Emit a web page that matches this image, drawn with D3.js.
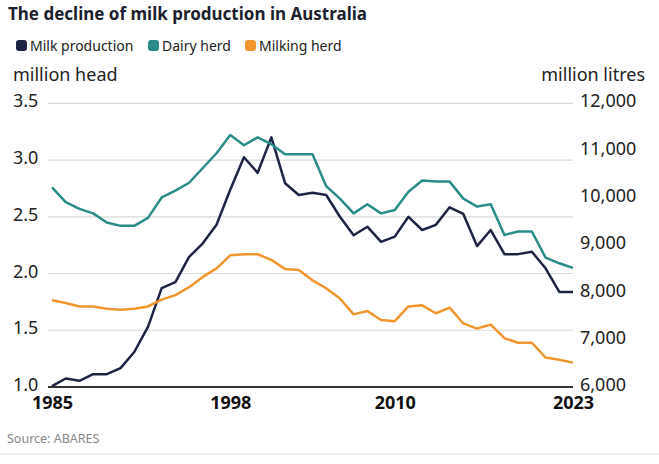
<!DOCTYPE html>
<html>
<head>
<meta charset="utf-8">
<script src="https://cdn.jsdelivr.net/npm/d3@7"></script>
<style>
  body { margin: 0; background: #fff; }
  text { font-family: "Noto Sans", "Open Sans", sans-serif; }
</style>
</head>
<body>
<div id="chart"></div>
<script>
// Data
var years = d3.range(1985, 2024);

// million litres (right axis)
var milkProduction = [6020, 6180, 6130, 6270, 6270, 6400, 6740, 7270, 8090, 8220,
  8750, 9040, 9430, 10170, 10860, 10530, 11280, 10310, 10060, 10110,
  10060, 9600, 9210, 9390, 9070, 9180, 9600, 9320, 9430, 9800,
  9660, 8980, 9320, 8810, 8810, 8860, 8510, 8010, 8010];

// million head (left axis)
var dairyHerd = [2.76, 2.63, 2.57, 2.53, 2.45, 2.42, 2.42, 2.49, 2.67, 2.73,
  2.80, 2.93, 3.06, 3.22, 3.13, 3.20, 3.14, 3.05, 3.05, 3.05,
  2.77, 2.66, 2.53, 2.61, 2.53, 2.56, 2.72, 2.82, 2.81, 2.81,
  2.66, 2.59, 2.61, 2.34, 2.37, 2.37, 2.14, 2.09, 2.05];

var milkingHerd = [1.765, 1.74, 1.71, 1.71, 1.69, 1.68, 1.69, 1.71, 1.77, 1.81,
  1.88, 1.97, 2.045, 2.16, 2.17, 2.17, 2.12, 2.04, 2.03, 1.94,
  1.87, 1.78, 1.64, 1.67, 1.59, 1.58, 1.71, 1.72, 1.65, 1.70,
  1.56, 1.515, 1.55, 1.43, 1.39, 1.39, 1.26, 1.24, 1.215];

var leftTicks = [1.0, 1.5, 2.0, 2.5, 3.0, 3.5];
var rightTicks = [6000, 7000, 8000, 9000, 10000, 11000, 12000];
var xTicks = [1985, 1998, 2010, 2023];

var series = [
  {name: "Milk production", color: "#1d2443", values: milkProduction, axis: "right"},
  {name: "Dairy herd", color: "#2a8c88", values: dairyHerd, axis: "left"},
  {name: "Milking herd", color: "#f0962e", values: milkingHerd, axis: "left"}
];

var svgWidth = 659;
var svgHeight = 464;

var margin = {top: 103.3, right: 86, bottom: 77, left: 52};
var width = svgWidth - margin.left - margin.right;
var height = svgHeight - margin.top - margin.bottom;

var svg = d3.select("#chart")
  .append("svg")
  .attr("width", svgWidth)
  .attr("height", svgHeight);

// Title and legend
svg.append("text")
  .attr("x", 8).attr("y", 20)
  .attr("font-size", "17px")
  .attr("font-weight", "bold")
  .attr("fill", "#1b1f2e")
  .text("The decline of milk production in Australia");

var legendX = [16, 148, 245];
var legend = svg.selectAll(".legend")
  .data(series)
  .enter()
  .append("g")
  .attr("transform", (d, i) => `translate(${legendX[i]}, 40)`);

legend.append("rect")
  .attr("width", 11).attr("height", 11)
  .attr("rx", 3)
  .attr("fill", d => d.color);

legend.append("text")
  .attr("x", 14).attr("y", 10.5)
  .attr("font-size", "14px")
  .attr("fill", "#222")
  .text(d => d.name);

svg.append("text")
  .attr("x", 13).attr("y", 81)
  .attr("font-size", "18px")
  .attr("fill", "#222")
  .text("million head");

svg.append("text")
  .attr("x", 645).attr("y", 81)
  .attr("text-anchor", "end")
  .attr("font-size", "18px")
  .attr("fill", "#222")
  .text("million litres");

var chartGroup = svg.append("g")
  .attr("transform", `translate(${margin.left}, ${margin.top})`);

// Scales
var xScale = d3.scaleLinear()
  .domain([1985, 2023])
  .range([0, width]);

var yLeft = d3.scaleLinear()
  .domain([1.0, 3.5])
  .range([height, 0]);

var yRight = d3.scaleLinear()
  .domain([6000, 12000])
  .range([height, 0]);

// Grid lines
chartGroup.selectAll(".grid")
  .data(leftTicks.slice(1))
  .enter()
  .append("line")
  .attr("x1", -4).attr("x2", width)
  .attr("y1", d => yLeft(d)).attr("y2", d => yLeft(d))
  .attr("stroke", "#dadada")
  .attr("stroke-width", 1.2);

// Left axis
var leftAxis = d3.axisLeft(yLeft)
  .tickValues(leftTicks)
  .tickFormat(d3.format(".1f"))
  .tickSize(0);

chartGroup.append("g")
  .attr("class", "axis")
  .call(leftAxis)
  .call(g => g.select(".domain").remove())
  .call(g => g.selectAll("text")
    .attr("x", -39).attr("dy", "0.2em")
    .attr("text-anchor", "start")
    .attr("font-size", "18px")
    .attr("fill", "#222"));

// Right axis
var rightAxis = d3.axisRight(yRight)
  .tickValues(rightTicks)
  .tickFormat(d3.format(","))
  .tickSize(0);

chartGroup.append("g")
  .attr("transform", `translate(${width}, 0)`)
  .call(rightAxis)
  .call(g => g.select(".domain").remove())
  .call(g => g.selectAll("text")
    .attr("x", 7).attr("dy", "0.2em")
    .attr("font-size", "18px")
    .attr("fill", "#222"));

// Bottom axis
var bottomAxis = d3.axisBottom(xScale)
  .tickValues(xTicks)
  .tickFormat(d3.format("d"))
  .tickSize(0);

chartGroup.append("g")
  .attr("transform", `translate(0, ${height})`)
  .call(bottomAxis)
  .call(g => g.select(".domain").remove())
  .call(g => g.selectAll("text")
    .attr("y", 9)
    .attr("font-size", "18px")
    .attr("font-weight", "bold")
    .attr("fill", "#111"));

chartGroup.append("line")
  .attr("x1", -4).attr("x2", width)
  .attr("y1", height).attr("y2", height)
  .attr("stroke", "#333")
  .attr("stroke-width", 2);

// Lines
series.forEach(function(s) {
  var yScale = s.axis === "left" ? yLeft : yRight;
  var line = d3.line()
    .x((d, i) => xScale(years[i]))
    .y(d => yScale(d));
  chartGroup.append("path")
    .datum(s.values)
    .attr("fill", "none")
    .attr("stroke", s.color)
    .attr("stroke-width", 2.5)
    .attr("stroke-linejoin", "round")
    .attr("d", line);
});

// Source + footer
svg.append("text")
  .attr("x", 7).attr("y", 443)
  .attr("font-size", "12.5px")
  .attr("fill", "#888")
  .text("Source: ABARES");

svg.append("line")
  .attr("x1", 0).attr("x2", svgWidth)
  .attr("y1", 454).attr("y2", 454)
  .attr("stroke", "#e2e2e2")
  .attr("stroke-width", 1);
</script>
</body>
</html>
